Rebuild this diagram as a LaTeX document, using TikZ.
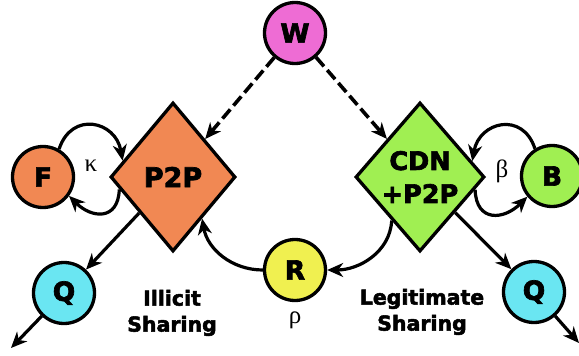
\documentclass[tikz,border=0pt]{standalone}
\usepackage{fontspec}
\setmainfont{Liberation Sans}
\newfontfamily\hv{DejaVu Sans Bold}[FakeBold=2.5]
\newfontfamily\grkfont{Liberation Serif}
\usetikzlibrary{shapes.geometric,arrows.meta}
\definecolor{corange}{RGB}{241,136,83}
\definecolor{cgreen}{RGB}{160,239,82}
\definecolor{cpink}{RGB}{238,108,212}
\definecolor{cyellow}{RGB}{240,240,80}
\definecolor{ccyan}{RGB}{106,230,242}
\tikzset{
  circ/.style={circle, draw, line width=3.3pt, minimum size=61pt, inner sep=0pt,
    font=\hv\fontsize{26.5}{26.5}\selectfont},
  dia/.style={diamond, draw, line width=3.3pt, minimum width=125pt, minimum height=149pt,
    inner sep=0pt, aspect=0.84, align=center, font=\hv\fontsize{27}{33}\selectfont},
  arr/.style={line width=3.2pt, -{Stealth[length=16pt,width=14pt,inset=5pt]}},
  dasharr/.style={arr, line width=3.6pt, dash pattern=on 12pt off 5pt},
  lbl/.style={align=center, font=\hv\fontsize{20.5}{26}\selectfont},
  grk/.style={font=\grkfont\fontsize{25}{25}\selectfont}
}
\begin{document}
\begin{tikzpicture}[x=1pt,y=-1pt]
\useasboundingbox (0,0) rectangle (579,356);
\node[circ, fill=cpink] (W) at (295,33) {W};
\node[dia, fill=corange] (p2p) at (173,177) {P2P};
\node[dia, fill=cgreen, minimum width=129pt, font=\hv\fontsize{25.5}{33}\selectfont] (cdn) at (420,177) {CDN\\+P2P};
\node[circ, fill=corange] (F) at (43,177) {F};
\node[circ, fill=cgreen] (B) at (552,176) {B};
\node[circ, fill=cyellow] (R) at (295,270) {R};
\node[circ, fill=ccyan] (QL) at (64,293) {Q};
\node[circ, fill=ccyan] (QR) at (534,292) {Q};
\coordinate (qlend) at (11,348);
\coordinate (qrend) at (579,343);

\node[lbl] (il) at (172,313) {Illicit\\Sharing};
\node[lbl] (lg) at (422,312) {Legitimate\\Sharing};
\node[grk] (kappa) at (91,166) {κ};
\node[grk] (beta) at (502,171) {β};
\node[grk] (rho) at (295,320) {ρ};

\draw[dasharr] (W) -- (p2p);
\draw[dasharr] (W) -- (cdn);
\draw[arr] (p2p) -- (QL);
\draw[arr] (cdn) -- (QR);
\draw[arr] (QL) -- (qlend);
\draw[arr] (QR) -- (qrend);
\draw[arr] (F.60) to[out=72,in=100,looseness=1.6] (p2p.162);
\draw[arr] (p2p.193) to[out=268,in=-45,looseness=1.6] (F.-36);
\draw[arr] (B.122) to[out=108,in=80,looseness=1.6] (cdn.17);
\draw[arr] (cdn.-13) to[out=-88,in=225,looseness=1.6] (B.220);
\draw[arr] (cdn.237) to[out=-93,in=0] (R.east);
\draw[arr] (R.west) to[out=180,in=-80] (p2p.-55);
\end{tikzpicture}
\end{document}
